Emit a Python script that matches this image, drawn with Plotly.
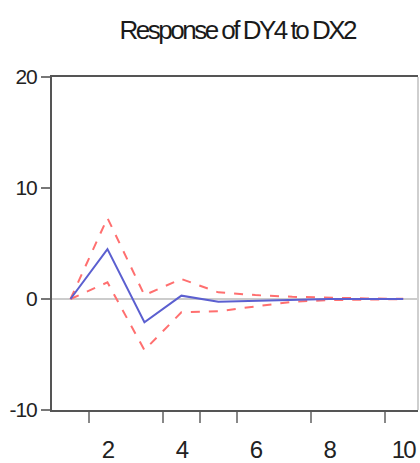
import plotly.graph_objects as go

periods = [1, 2, 3, 4, 5, 6, 7, 8, 9, 10]
response = [0.0, 4.5, -2.1, 0.3, -0.25, -0.15, -0.05, 0.0, 0.0, 0.0]
upper_band = [0.0, 7.3, 0.35, 1.8, 0.6, 0.35, 0.2, 0.1, 0.05, 0.02]
lower_band = [0.0, 1.5, -4.6, -1.2, -1.1, -0.7, -0.25, -0.1, -0.03, -0.01]
x_tick_positions = [1.5, 3.5, 4.5, 5.5, 7.5, 9.5]
x_label_values = [2, 4, 6, 8, 10]
x_label_text = ["2", "4", "6", "8", "10"]
y_tick_values = [-10, 0, 10, 20]
y_tick_text = ["-10", "0", "10", "20"]
title_text = "Response of DY4 to DX2"

FONT = "Liberation Sans, Arial, sans-serif"
RED = "#ff6f6f"
BLUE = "#5b5fd0"


def squeeze(s, ls):
    return '<span style="letter-spacing:%spx">%s</span>' % (ls, s)


fig = go.Figure()
fig.add_trace(go.Scatter(x=periods, y=upper_band, mode="lines",
                         line=dict(color=RED, width=2, dash="dash"), showlegend=False))
fig.add_trace(go.Scatter(x=periods, y=lower_band, mode="lines",
                         line=dict(color=RED, width=2, dash="dash"), showlegend=False))
fig.add_trace(go.Scatter(x=periods, y=response, mode="lines",
                         line=dict(color=BLUE, width=2), showlegend=False))
fig.add_trace(go.Scatter(x=[periods[0]], y=[response[0]], xaxis="x2", mode="markers",
                         marker=dict(opacity=0), showlegend=False, hoverinfo="skip"))

xr = [0.5, 10.4]
fig.update_layout(
    width=420, height=463,
    margin=dict(l=52, r=2, t=77, b=53, autoexpand=False),
    paper_bgcolor="white", plot_bgcolor="white",
    title=dict(text=squeeze(title_text, -2.5), x=0.565, xanchor="center", y=0.935, yanchor="middle",
               font=dict(family=FONT, size=26, color="#1a1a1a")),
    xaxis=dict(range=xr, tickvals=x_tick_positions, ticktext=[""] * len(x_tick_positions),
               ticks="outside", ticklen=11, tickwidth=2, tickcolor="#888",
               showline=True, linecolor="#555", linewidth=2, mirror=True,
               showgrid=False, zeroline=False, automargin=False),
    xaxis2=dict(range=xr, overlaying="x", side="bottom", anchor="y",
                tickvals=x_label_values, ticktext=[squeeze(t, -2) for t in x_label_text],
                ticks="outside", ticklen=18, automargin=False,
                tickcolor="rgba(0,0,0,0)", showline=False, showgrid=False, zeroline=False,
                tickfont=dict(family=FONT, size=24, color="#222")),
    yaxis=dict(range=[-10, 20], tickvals=y_tick_values,
               ticktext=[squeeze(t, -1) for t in y_tick_text],
               ticks="outside", ticklen=9, automargin=False,
               tickwidth=2, tickcolor="#777", showline=True, linecolor="#555", linewidth=2,
               showgrid=False, zeroline=True, zerolinecolor="#cccccc", zerolinewidth=2,
               tickfont=dict(family=FONT, size=21, color="#222")),
    shapes=[dict(type="line", xref="paper", yref="paper", x0=1, x1=1, y0=0, y1=1,
                 line=dict(color="#cfcfcf", width=2))],
)
fig.write_html("out.html", config={"displayModeBar": False},
               post_script="document.body.style.margin='0';")
